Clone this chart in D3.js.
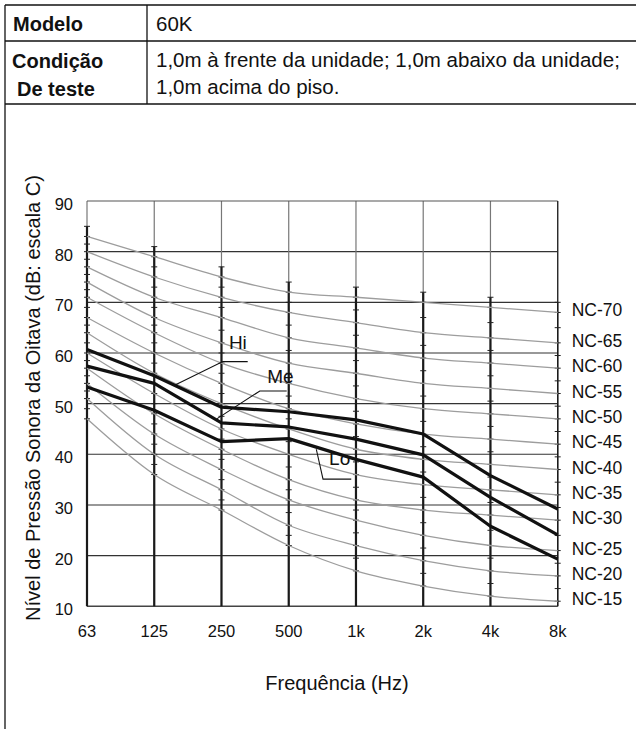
<!DOCTYPE html>
<html>
<head>
<meta charset="utf-8">
<script src="https://cdn.jsdelivr.net/npm/d3@7"></script>
<style>
  body { margin: 0; background: #fff; }
  svg text { font-family: "Liberation Sans", Arial, sans-serif; fill: #111; }
</style>
</head>
<body>
<div id="chart"></div>
<script>
// ---------- data ----------
const freqs = ["63", "125", "250", "500", "1k", "2k", "4k", "8k"];
const yTicks = [10, 20, 30, 40, 50, 60, 70, 80, 90];

const ncNames = ["NC-15", "NC-20", "NC-25", "NC-30", "NC-35", "NC-40",
                 "NC-45", "NC-50", "NC-55", "NC-60", "NC-65", "NC-70"];
const ncValues = [
  [47, 36, 29, 22, 17, 14, 12, 11],
  [51, 40, 33, 26, 22, 19, 17, 16],
  [54, 44, 37, 31, 27, 24, 22, 21],
  [57, 48, 41, 35, 31, 29, 28, 27],
  [60, 52, 45, 40, 36, 34, 33, 32],
  [64, 56, 50, 45, 41, 39, 38, 37],
  [67, 60, 54, 49, 46, 44, 43, 42],
  [71, 64, 58, 54, 51, 49, 48, 47],
  [74, 67, 62, 58, 56, 54, 53, 52],
  [77, 71, 67, 63, 61, 59, 58, 57],
  [80, 75, 71, 68, 66, 64, 63, 62],
  [83, 79, 75, 72, 71, 70, 69, 68]
];

const hiValues = [60.7, 55.5, 49.3, 48.4, 46.8, 44.0, 35.8, 29.2];
const meValues = [57.4, 54.0, 46.2, 45.4, 43.0, 39.9, 31.5, 24.1];
const loValues = [53.3, 48.7, 42.5, 43.1, 39.0, 35.5, 25.8, 19.3];

// annotation anchors: [frequency index, dB]
const hiLeader = [[1.31, 53.7], [2.02, 58.3], [2.39, 58.3]];
const meLeader = [[1.93, 47.0], [2.57, 52.5], [2.97, 52.5]];
const loLeader = [[3.41, 41.0], [3.51, 35.1], [3.93, 35.1]];
const seriesLabels = [
  { text: "Hi", at: [2.11, 60.8] },
  { text: "Me", at: [2.68, 54.1] },
  { text: "Lo", at: [3.60, 37.9] }
];

// ---------- layout ----------
const width = 636;
const height = 729;
const plot = { left: 87, right: 557.7, top: 201, bottom: 606.3 };

const svg = d3.select("#chart")
  .append("svg")
  .attr("width", width)
  .attr("height", height);

// ---------- header table ----------
const table = svg.append("g").attr("stroke", "#111").attr("stroke-width", 1.3);
table.append("line").attr("x1", 5).attr("x2", 636).attr("y1", 5).attr("y2", 5);
table.append("line").attr("x1", 5).attr("x2", 636).attr("y1", 41).attr("y2", 41);
table.append("line").attr("x1", 5).attr("x2", 636).attr("y1", 104).attr("y2", 104);
table.append("line").attr("x1", 5).attr("x2", 5).attr("y1", 5).attr("y2", height);
table.append("line").attr("x1", 147).attr("x2", 147).attr("y1", 5).attr("y2", 104);

const cell = (x, y, txt, bold) => svg.append("text")
  .attr("x", x).attr("y", y)
  .style("font-size", bold ? "20px" : "20.5px")
  .style("font-weight", bold ? "700" : "400")
  .text(txt);

cell(13, 31, "Modelo", true);
cell(156, 31, "60K", false);
cell(12, 68, "Condição", true);
cell(17, 96, "De teste", true);
cell(156, 67, "1,0m à frente da unidade; 1,0m abaixo da unidade;", false);
cell(156, 94, "1,0m acima do piso.", false);

// ---------- scales ----------
const x = d3.scalePoint()
  .domain(freqs)
  .range([plot.left, plot.right]);

const y = d3.scaleLinear()
  .domain([10, 90])
  .range([plot.bottom, plot.top]);

const xi = i => x(freqs[0]) + i * x.step();

// ---------- grid ----------
const grid = svg.append("g");

// horizontal grid
grid.selectAll(".hgrid")
  .data(yTicks.slice(1, -1))
  .enter()
  .append("line")
  .attr("x1", plot.left).attr("x2", plot.right)
  .attr("y1", d => y(d)).attr("y2", d => y(d))
  .attr("stroke", "#333")
  .attr("stroke-width", 1.1);

// vertical thin lines (full height)
grid.selectAll(".vgrid")
  .data(freqs)
  .enter()
  .append("line")
  .attr("x1", d => x(d)).attr("x2", d => x(d))
  .attr("y1", plot.top).attr("y2", plot.bottom)
  .attr("stroke", "#777")
  .attr("stroke-width", 1.2);

// frame top / right / bottom
grid.append("line")
  .attr("x1", plot.left).attr("x2", plot.right)
  .attr("y1", y(90)).attr("y2", y(90))
  .attr("stroke", "#555").attr("stroke-width", 1.2);
grid.append("line")
  .attr("x1", plot.right).attr("x2", plot.right)
  .attr("y1", plot.top).attr("y2", plot.bottom)
  .attr("stroke", "#222").attr("stroke-width", 1.2);
grid.append("line")
  .attr("x1", plot.left).attr("x2", plot.right)
  .attr("y1", y(10)).attr("y2", y(10))
  .attr("stroke", "#444").attr("stroke-width", 1.6);

// thick vertical bars from top NC curve down to bottom, with ticks
const topCurve = ncValues[ncValues.length - 1];
grid.selectAll(".vbar")
  .data(freqs)
  .enter()
  .append("line")
  .attr("x1", d => x(d)).attr("x2", d => x(d))
  .attr("y1", (d, i) => y(topCurve[i] + 2)).attr("y2", plot.bottom)
  .attr("stroke", "#1a1a1a")
  .attr("stroke-width", (d, i) => i === freqs.length - 1 ? 1.2 : 2.2);

const tickData = [];
freqs.forEach((f, i) => {
  tickData.push({ f, v: topCurve[i] + 2 });
  ncValues.forEach((row, k) => {
    tickData.push({ f, v: row[i] });
    if (k < ncValues.length - 1) {
      tickData.push({ f, v: (row[i] + ncValues[k + 1][i]) / 2 });
    }
  });
});

grid.selectAll(".vtick")
  .data(tickData)
  .enter()
  .append("line")
  .attr("x1", d => x(d.f) - 3).attr("x2", d => x(d.f) + 3)
  .attr("y1", d => y(d.v)).attr("y2", d => y(d.v))
  .attr("stroke", "#222")
  .attr("stroke-width", 1);

// ---------- NC curves ----------
const ncLine = d3.line()
  .x((d, i) => x(freqs[i]))
  .y(d => y(d))
  .curve(d3.curveMonotoneX);

svg.append("g")
  .selectAll("path")
  .data(ncValues)
  .enter()
  .append("path")
  .attr("d", ncLine)
  .attr("fill", "none")
  .attr("stroke", "#9d9d9d")
  .attr("stroke-width", 1.3);

// NC labels
svg.append("g")
  .selectAll("text")
  .data(ncNames)
  .enter()
  .append("text")
  .attr("x", plot.right + 14)
  .attr("y", (d, i) => y(ncValues[i][freqs.length - 1]) - 2)
  .attr("dominant-baseline", "central")
  .style("font-size", "17.5px")
  .text(d => d);

// ---------- measured lines ----------
const dataLine = d3.line()
  .x((d, i) => x(freqs[i]))
  .y(d => y(d));

svg.append("g")
  .selectAll("path")
  .data([hiValues, meValues, loValues])
  .enter()
  .append("path")
  .attr("d", dataLine)
  .attr("fill", "none")
  .attr("stroke", "#111")
  .attr("stroke-width", 3.2)
  .attr("stroke-linejoin", "round");

// ---------- annotations ----------
const leader = d3.line()
  .x(d => xi(d[0]))
  .y(d => y(d[1]));

svg.append("g")
  .selectAll("path")
  .data([hiLeader, meLeader, loLeader])
  .enter()
  .append("path")
  .attr("d", leader)
  .attr("fill", "none")
  .attr("stroke", "#111")
  .attr("stroke-width", 1.1);

svg.append("g")
  .selectAll("text")
  .data(seriesLabels)
  .enter()
  .append("text")
  .attr("x", d => xi(d.at[0]))
  .attr("y", d => y(d.at[1]))
  .style("font-size", "19px")
  .text(d => d.text);

// ---------- axes labels ----------
svg.append("g")
  .selectAll("text")
  .data(yTicks)
  .enter()
  .append("text")
  .attr("x", 73)
  .attr("y", d => y(d) + 3)
  .attr("text-anchor", "end")
  .attr("dominant-baseline", "central")
  .style("font-size", "16.5px")
  .text(d => d);

svg.append("g")
  .selectAll("text")
  .data(freqs)
  .enter()
  .append("text")
  .attr("x", d => x(d))
  .attr("y", 631)
  .attr("text-anchor", "middle")
  .attr("dominant-baseline", "central")
  .style("font-size", "16.5px")
  .text(d => d);

svg.append("text")
  .attr("x", 337)
  .attr("y", 690)
  .attr("text-anchor", "middle")
  .style("font-size", "20px")
  .text("Frequência (Hz)");

svg.append("text")
  .attr("transform", "translate(40,398) rotate(-90)")
  .attr("text-anchor", "middle")
  .style("font-size", "20px")
  .text("Nível de Pressão Sonora da Oitava (dB: escala C)");
</script>
</body>
</html>
